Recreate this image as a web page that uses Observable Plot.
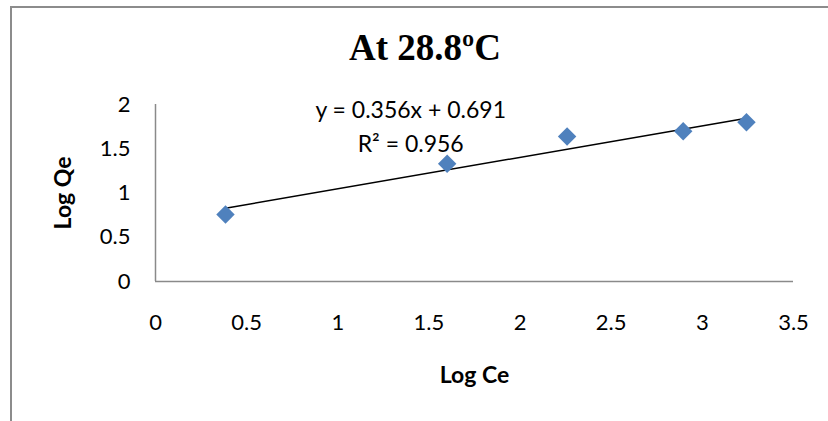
<!DOCTYPE html>
<html>
<head>
<meta charset="utf-8">
<script src="https://cdn.jsdelivr.net/npm/d3@7"></script>
<script src="https://cdn.jsdelivr.net/npm/@observablehq/plot@0.6"></script>
<style>
  html, body { margin: 0; padding: 0; background: #fff; }
  #wrap { position: relative; width: 828px; height: 421px; overflow: hidden; background: #fff; }
  #frame { position: absolute; left: 10px; top: 6px; width: 900px; height: 500px;
           border-left: 2px solid #8c8c8c; border-top: 2px solid #8c8c8c; }
  #title { position: absolute; left: 325px; width: 200px; top: 26px; text-align: center;
           font-family: "Liberation Serif", serif; font-weight: bold; font-size: 37px; color: #000; white-space: nowrap; }
  #chart { position: absolute; left: 0; top: 0; }
</style>
</head>
<body>
<div id="wrap">
  <div id="frame"></div>
  <div id="chart"></div>
  <div id="title">At 28.8ºC</div>
</div>
<script>
// Data
const logCe = [0.384, 1.600, 2.258, 2.895, 3.242];
const logQe = [0.757, 1.330, 1.638, 1.698, 1.800];
// Trendline coefficients from the label
const slope = 0.356;
const intercept = 0.691;
const rSquared = 0.956;
// Axis ticks
const xTicks = [0, 0.5, 1, 1.5, 2, 2.5, 3, 3.5];
const yTicks = [0, 0.5, 1, 1.5, 2];
const xLabel = "Log Ce";
const yLabel = "Log Qe";
const eqText = `y = ${slope}x + ${intercept}`;
const r2Text = `R² = ${rSquared}`;

const points = logCe.map((x, i) => ({x, y: logQe[i]}));
const ext = d3.extent(logCe);
const trend = ext.map(x => ({x, y: slope * x + intercept}));

const font = "Lato, 'Open Sans', sans-serif";

const plot = Plot.plot({
  width: 828,
  height: 421,
  marginLeft: 155,
  marginRight: 35,
  marginTop: 104,
  marginBottom: 140,
  style: {background: "transparent", fontFamily: font, fontSize: "22px", color: "#000"},
  x: {domain: [0, 3.5], ticks: xTicks, tickFormat: d3.format("")},
  y: {domain: [0, 2], ticks: yTicks, tickFormat: d3.format("")},
  marks: [
    Plot.axisX({ticks: xTicks, tickSize: 0, tickPadding: 33, label: null, fontSize: 22, tickFormat: d3.format("")}),
    Plot.axisY({ticks: yTicks, tickSize: 0, tickPadding: 25, label: null, fontSize: 22, tickFormat: d3.format("")}),
    Plot.ruleY([0], {x1: 0, x2: 3.5, stroke: "#8a8a8a", strokeWidth: 1.5}),
    Plot.ruleX([0], {y1: 0, y2: 2, stroke: "#8a8a8a", strokeWidth: 1.5}),
    Plot.line(trend, {x: "x", y: "y", stroke: "#000", strokeWidth: 1.5}),
    Plot.dot(points, {x: "x", y: "y", symbol: "diamond2", r: 8.3, fill: "#4F81BD", stroke: "none"}),
    Plot.text([eqText], {x: 1.40, y: 1.853, text: d => d, lineAnchor: "bottom", textAnchor: "middle", fontSize: 23, fill: "#000"}),
    Plot.text([r2Text], {x: 1.40, y: 1.458, text: d => d, lineAnchor: "bottom", textAnchor: "middle", fontSize: 23, fill: "#000"}),
    Plot.text([xLabel], {frameAnchor: "bottom", dy: 94, text: d => d, textAnchor: "middle", lineAnchor: "middle", fontWeight: "bold", fontSize: 23, fill: "#000"}),
    Plot.text([yLabel], {frameAnchor: "left", dx: -92, rotate: -90, text: d => d, textAnchor: "middle", lineAnchor: "middle", fontWeight: "bold", fontSize: 23, fill: "#000"})
  ]
});
document.getElementById("chart").appendChild(plot);
</script>
</body>
</html>
